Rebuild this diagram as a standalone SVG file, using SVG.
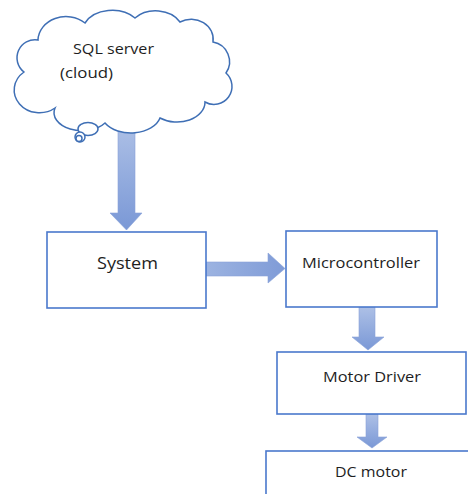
<svg xmlns="http://www.w3.org/2000/svg" width="468" height="494" viewBox="0 0 468 494">
<defs>
<linearGradient id="gv" x1="0" y1="0" x2="0" y2="1">
<stop offset="0" stop-color="#adc0e6"/>
<stop offset="1" stop-color="#7a98d6"/>
</linearGradient>
<linearGradient id="gh" x1="0" y1="0" x2="1" y2="0">
<stop offset="0" stop-color="#9cb3e1"/>
<stop offset="1" stop-color="#7f9bd7"/>
</linearGradient>
</defs>
<style>
.box{fill:#fff;stroke:#4a78cc;stroke-width:1.6}
.cloud{fill:#fff;stroke:#3f6fb5;stroke-width:1.5}
.t{font-family:"Open Sans","Liberation Sans",sans-serif;fill:#1e1e1e;text-anchor:middle}
.av{fill:url(#gv);stroke:#8aa3d8;stroke-width:0.6}
.ah{fill:url(#gh);stroke:#8aa3d8;stroke-width:0.6}
</style>
<rect width="468" height="494" fill="#fff"/>
<g id="connectors">
<path class="av" d="M118,124 H135 V213 H142 L126.5,230 L110,213 H118 Z"/>
<path class="ah" d="M206,262 H268 V253 L285,268.5 L268,283 V276 H206 Z"/>
<path class="av" d="M359,307 H375 V337 H384 L368,350 L352,337 H359 Z"/>
<path class="av" d="M366,414 H378 V437 H387 L372,448 L357,437 H366 Z"/>
</g>
<g id="cloud">
<path class="cloud" d="M24,72 A18,18 0 0 1 38,40 A28,24 0 0 1 85,23 A30,22 0 0 1 135,18 A28,22 0 0 1 180,22 A22,20 0 0 1 213,42 A20,20 0 0 1 226,73 A18,18 0 0 1 205,102 A28,20 0 0 1 160,118 A30,20 0 0 1 105,123 A28,18 0 0 1 55,108 A20,18 0 0 1 24,72 Z"/>
<ellipse class="cloud" cx="88" cy="129" rx="10" ry="6.5"/>
<circle class="cloud" cx="80" cy="137" r="5"/>
<circle class="cloud" cx="79" cy="138.5" r="3"/>
<text class="t" x="113.5" y="54" font-size="15" textLength="81" lengthAdjust="spacingAndGlyphs">SQL server</text>
<text class="t" x="86.5" y="78" font-size="15" textLength="53" lengthAdjust="spacingAndGlyphs">(cloud)</text>
</g>
<g id="system">
<rect class="box" x="47" y="232" width="159" height="76"/>
<text class="t" x="127.5" y="269" font-size="16" textLength="61" lengthAdjust="spacingAndGlyphs">System</text>
</g>
<g id="microcontroller">
<rect class="box" x="286" y="231" width="151" height="76"/>
<text class="t" x="361" y="268" font-size="15" textLength="118" lengthAdjust="spacingAndGlyphs">Microcontroller</text>
</g>
<g id="motor-driver">
<rect class="box" x="277" y="352" width="189" height="62"/>
<text class="t" x="372" y="382" font-size="15" textLength="98" lengthAdjust="spacingAndGlyphs">Motor Driver</text>
</g>
<g id="dc-motor">
<rect class="box" x="266" y="451" width="210" height="60"/>
<text class="t" x="371" y="477" font-size="15" textLength="72" lengthAdjust="spacingAndGlyphs">DC motor</text>
</g>
</svg>
